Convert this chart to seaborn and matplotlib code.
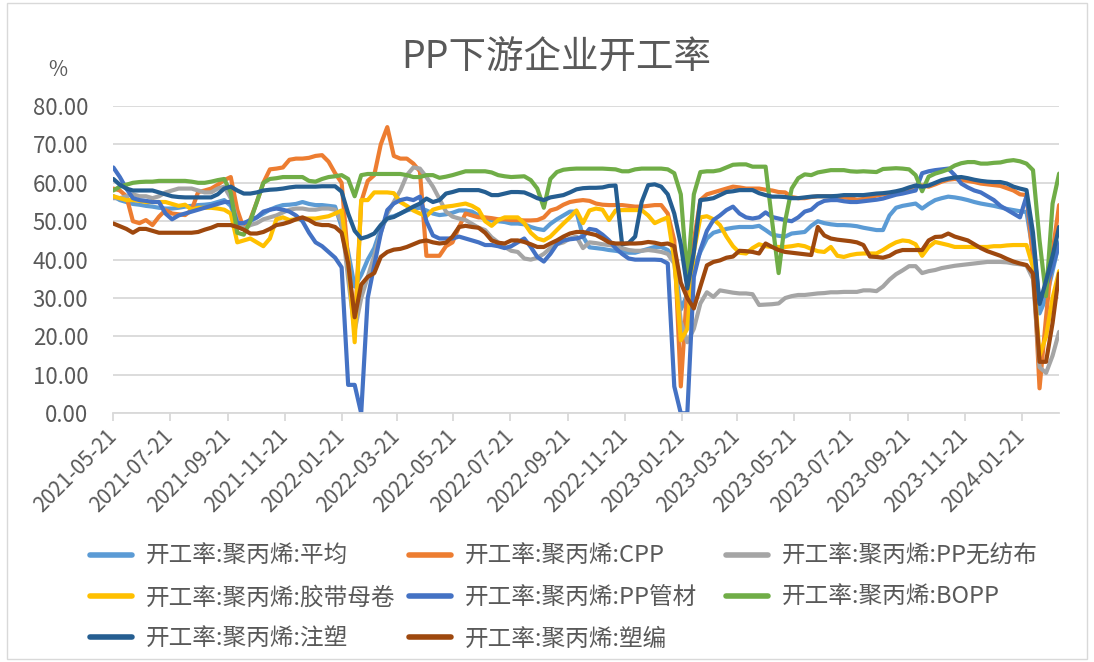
import pandas as pd
import seaborn as sns
import matplotlib.pyplot as plt
from matplotlib.lines import Line2D
from matplotlib.patches import Rectangle

# weekly observations (Fridays), 2021-05-21 .. 2024-03-01
dates = pd.date_range("2021-05-21", periods=146, freq="7D")

avg = [56.5, 55.5, 55, 54.5, 54.3, 54, 53.8, 53.5, 53.3, 53.3, 53.5, 53.8, 54, 54.2, 54.3, 54.5, 55, 55.5, 54, 49.5, 48.5,
       50, 51, 52, 53, 53.7, 54.2, 54.3, 54.5, 55, 54.5, 54.2, 54.2, 54, 53.8, 48.5, 42, 33, 36, 40, 43,
       48, 51, 51.3, 52, 52.8, 53.3, 53.5, 52.8, 52, 51.6, 51.8, 52.2, 52.8, 52.8, 52.5, 51.5, 50.5, 50.2, 50, 49.8, 49.4,
       49.4, 49.2, 48.5, 48, 47.7, 49.3, 50.5, 51.5, 52.5, 52.5, 46, 43.2, 43, 42.8, 42.5, 42.3, 42, 41.8, 41.8, 42.3, 42.8,
       43.3, 43.3, 42.5, 40, 27, 31, 38, 42, 45.5, 47, 47.5, 48, 48.3, 48.5, 48.5, 48.5, 48.8, 47.7, 46.5, 46.2,
       46, 46.8, 47, 47.2, 48.8, 50, 49.5, 49.2, 49, 49, 48.9, 48.7, 48.3, 48, 47.7, 47.7, 51.5, 53.5, 54, 54.3, 54.6,
       53.3, 54.5, 55.5, 56, 56.4, 56.2, 55.9, 55.5, 55, 54.6, 54.3, 54, 53.6, 53.2, 52.9, 52.6, 52.4, 42, 26, 30, 37, 44.5]

cpp = [58.5, 58, 56.5, 50, 49.5, 50.3, 49, 51.2, 52.9, 52, 51.8, 51.6, 52.9, 57.6, 58, 58.5, 59.5, 60.7, 61.5, 53, 48,
       50.5, 55, 60, 63.5, 63.7, 64, 66, 66.3, 66.3, 66.5, 67, 67.2, 65.5, 62.5, 60, 40, 22, 55, 60.5, 62,
       70, 74.5, 67, 66.3, 66.3, 65, 63, 41, 41, 41, 43.5, 44.5, 48.5, 52, 51.5, 51, 51, 50.8, 50.5, 50.5, 50.3,
       50.3, 50.2, 50.2, 50.3, 51, 52.8, 53.3, 54.3, 55, 55.3, 55.5, 55.3, 54.6, 54.3, 54.2, 54.2, 54.2, 54, 53.8, 53.8, 54,
       54.2, 54.2, 52, 45, 7, 33, 45, 55.5, 57, 57.5, 58, 58.5, 59, 58.8, 58.5, 58.5, 58.5, 58.2, 58, 57.6,
       57.5, 56.3, 56, 56, 56.3, 56.5, 56.5, 56.5, 56.4, 56.2, 56, 55.6, 55.8, 56.2, 56.7, 57, 57.2, 57.4, 58, 58.5, 59.2,
       59.3, 59, 59.6, 60.3, 60.8, 61, 60.8, 60.5, 60.2, 59.8, 59.6, 59.4, 59.2, 58.6, 58, 57, 56.8, 40, 6.5, 25, 42, 54.2]

nonwoven = [56, 56, 56.5, 57, 56.5, 56.5, 56, 56.5, 57.5, 58, 58.5, 58.5, 58.5, 58, 57.5, 57.5, 58.5, 59, 56, 50, 48,
            49, 49.5, 50.5, 51, 51.5, 52.3, 53, 53.3, 53.3, 53, 53, 53.3, 53.3, 53, 50, 35, 21.5, 30, 35.5, 41,
            47, 52, 55, 58, 62, 64, 63.7, 61.5, 59, 55.8, 52.5, 51.2, 50.7, 50.3, 49.3, 48.3, 47.7, 45.8, 44.5, 43.3, 42.3,
            42, 40.3, 40, 40.5, 41.5, 43, 44, 44.5, 45.5, 46, 43, 44.5, 44.3, 44, 43.8, 43.5, 43, 42.5, 42.3, 42.3, 42.5,
            42.3, 42, 41.5, 39, 24, 18.5, 22, 28.6, 31.5, 30.3, 32, 31.7, 31.4, 31.2, 31.2, 31, 28.2, 28.3, 28.4, 28.6,
            30, 30.5, 30.8, 30.8, 31, 31.2, 31.3, 31.5, 31.5, 31.6, 31.6, 31.6, 32, 32, 31.8, 33, 34.8, 36.2, 37.2, 38.3, 38.3,
            36.5, 37, 37.3, 37.8, 38.1, 38.4, 38.6, 38.8, 39, 39.2, 39.4, 39.4, 39.4, 39.3, 39, 38.8, 38.5, 35, 12, 10.5, 15, 21.2]

tape = [56.5, 56, 55.5, 55.5, 55.3, 55, 55, 55, 55, 54.5, 54, 54.3, 53, 53.5, 53.5, 53.5, 53.3, 53, 52, 44.5, 45,
        45.5, 44.5, 43.5, 45.5, 50.5, 51, 50.3, 50.5, 50.7, 50.7, 50.7, 51, 51.3, 52, 52.8, 40, 18.5, 55.5, 55.5, 57.5,
        57.5, 57.5, 57.3, 55, 54, 52.8, 52, 51.3, 53, 53.5, 53.8, 54, 54.3, 54.6, 54, 53, 50, 48.8, 50.3, 51, 51,
        51, 49.5, 47, 45.5, 45, 46, 47.7, 49.4, 51, 52.8, 49.5, 52.8, 53.3, 53, 50.3, 52.8, 52.9, 52.9, 52.9, 52.9, 51.5,
        49.5, 50.3, 51, 40, 19, 22, 42, 51, 51.3, 50.5, 49, 46, 43.5, 41.8, 41.6, 43, 44, 43.5, 43.3, 43.3,
        43.3, 43.5, 43.8, 43.5, 42.8, 42.2, 42, 43.3, 41, 40.7, 41.2, 41.5, 41.6, 41.6, 41.6, 42.5, 43.6, 44.5, 45, 44.8, 44,
        41, 43.3, 44.6, 44.2, 43.8, 43.3, 43.3, 43.3, 43.3, 43.3, 43.3, 43.5, 43.5, 43.7, 43.8, 43.8, 43.8, 38, 15, 20, 30, 37]

pipe = [64, 61.5, 58.5, 56, 55.5, 55.3, 55, 55, 52, 50.5, 51.5, 52, 52.5, 53, 53.5, 54, 54.5, 55, 55, 49.5, 49.5,
        50.3, 51, 52.5, 53, 53.3, 53, 52.5, 51.5, 50, 47, 44.5, 43.5, 42, 40.5, 38, 7.4, 7.4, 0, 30, 38.5,
        46.8, 52.9, 54.6, 55.5, 55.9, 55.5, 56.4, 50, 46.3, 45.5, 45.5, 45.5, 46, 45.5, 45, 44.5, 43.8, 43.8, 43.5, 43, 43.5,
        44.5, 45.5, 43.3, 40.7, 39.5, 41.5, 44, 45, 45.3, 45.5, 46, 48, 47.7, 46.5, 45, 43, 41.5, 40.3, 40, 40, 40,
        40, 39.9, 39, 7, 0, 0, 35.5, 42.5, 47.5, 50.3, 51.5, 52.9, 53.8, 52, 51, 50.7, 51, 52.3, 51.1, 50.7,
        50.3, 50, 51, 52.5, 53, 54.5, 55.3, 55.5, 55.5, 55.2, 55, 55, 55.2, 55.4, 55.6, 55.9, 56.4, 56.9, 57.2, 57.6, 58,
        62.5, 63, 63.3, 63.5, 63.7, 62, 59.8, 58.8, 58, 57.5, 56.5, 55.5, 54, 53, 52, 51, 56.5, 45, 28.5, 33, 38, 44]

bopp = [58, 59, 59.5, 60, 60.2, 60.3, 60.3, 60.5, 60.5, 60.5, 60.5, 60.5, 60.3, 60, 60, 60.3, 60.7, 61, 57.5, 47, 46.5,
        50, 55, 60, 61, 61.2, 61.5, 61.5, 61.5, 61.5, 60.5, 60.3, 61, 61.5, 61.7, 62, 61, 56.5, 62, 62.3, 62.3,
        62.3, 62.3, 62.3, 62.3, 62, 61.5, 61.5, 62, 62, 61.3, 61.6, 62, 62.5, 63, 63, 63, 63, 62.7, 62, 61.7, 61.5,
        61.6, 61.7, 60.7, 58.5, 53.5, 61, 62.8, 63.4, 63.6, 63.7, 63.7, 63.7, 63.7, 63.7, 63.6, 63.5, 63, 63, 63.5, 63.7, 63.7,
        63.7, 63.7, 63.5, 62.5, 57, 35, 57, 62.8, 63, 63, 63.3, 64, 64.7, 64.8, 64.8, 64.2, 64.2, 64.2, 50, 36.5,
        50, 58.5, 61.2, 62.2, 62, 62.7, 63, 63.3, 63.3, 63.3, 63, 62.9, 63, 62.9, 62.8, 63.6, 63.7, 63.8, 63.7, 63.5, 62,
        57.8, 61.6, 62.4, 62.9, 63.5, 64.5, 65.1, 65.4, 65.4, 65, 65, 65.2, 65.3, 65.7, 65.9, 65.6, 65, 63.3, 45, 30.5, 54.6, 62.4]

injection = [61, 59.5, 58.5, 58, 58, 58, 58, 57.5, 57, 56.5, 56.3, 56.2, 56.2, 56.2, 56.2, 56.2, 57, 58.5, 59, 58, 57.2,
             57.2, 57.5, 58, 58.2, 58.3, 58.5, 58.8, 59, 59, 59, 59, 59.1, 59.1, 59.1, 57.7, 52, 47.5, 45.5, 46, 46.8,
             49, 50.7, 51.1, 52, 52.9, 53.8, 54.6, 55.9, 55, 55.5, 57.2, 57.6, 58.1, 58.1, 58.1, 58.1, 57.6, 56.8, 56.8, 57.2, 57.6,
             57.6, 57.5, 56.8, 56, 55.5, 56.2, 56.5, 56.8, 57.5, 58.3, 58.6, 58.7, 58.7, 58.8, 59.2, 59.3, 44, 44.3, 46, 55, 59.4,
             59.6, 59, 57, 52, 44, 32.5, 42, 55.5, 55.7, 56, 56.8, 57.6, 57.8, 58.1, 58.1, 58.1, 57.3, 56.8, 56.4, 56.4,
             56.3, 56, 56, 56.2, 56.4, 56.5, 56.5, 56.5, 56.6, 56.8, 56.8, 56.8, 56.8, 57, 57.2, 57.3, 57.5, 57.8, 58.2, 58.8, 59.3,
             59, 59.3, 60, 60.7, 61.1, 61.4, 61.5, 61.2, 60.8, 60.5, 60.3, 60.2, 60.2, 59.8, 59, 58.5, 58.1, 47, 28.5, 34.5, 41, 48.5]

woven = [49.4, 48.7, 48, 47, 48, 48, 47.5, 47, 47, 47, 47, 47, 47, 47.2, 47.8, 48.3, 49, 49, 49, 48.5, 47.8,
         46.8, 46.8, 47.2, 48, 49, 49.3, 49.8, 50.5, 51, 50.3, 49.3, 49, 49, 48.5, 47, 39, 25, 33.5, 35.5, 36.5,
         40.7, 42, 42.6, 42.8, 43.3, 44, 44.7, 45, 44.5, 44.2, 44.4, 46, 48.5, 48.8, 48.5, 48.3, 47, 45, 44.4, 44.2, 45,
         45, 44.6, 44, 43.3, 43.3, 44.2, 45, 46, 46.8, 47.2, 47.2, 46.8, 46.4, 45.5, 44.5, 44.2, 44.2, 44.2, 44.2, 44.3, 44.6,
         44.4, 44, 44.2, 43.5, 34, 30, 27.3, 33, 38.5, 39.4, 39.8, 40.5, 40.8, 42.3, 42.2, 42, 41.6, 44.2, 43.3, 42.5,
         42, 41.8, 41.6, 41.4, 41.2, 48.5, 46.3, 45.5, 45.2, 45, 44.8, 44.5, 43.8, 40.8, 40.7, 40.5, 41, 42, 42.5, 42.5, 42.5,
         42.5, 45, 45.9, 46, 46.8, 46, 45.5, 45, 44, 43, 42.2, 41.6, 41, 40.2, 39.5, 39, 38.6, 36.4, 13.4, 13.4, 23.5, 36.4]

names = ["开工率:聚丙烯:平均", "开工率:聚丙烯:CPP", "开工率:聚丙烯:PP无纺布",
         "开工率:聚丙烯:胶带母卷", "开工率:聚丙烯:PP管材", "开工率:聚丙烯:BOPP",
         "开工率:聚丙烯:注塑", "开工率:聚丙烯:塑编"]
values = [avg, cpp, nonwoven, tape, pipe, bopp, injection, woven]
colors = ["#5B9BD5", "#ED7D31", "#A5A5A5", "#FFC000", "#4472C4", "#70AD47", "#255E91", "#9E480E"]
palette = dict(zip(names, colors))

wide = pd.DataFrame(dict(zip(names, values)))
wide["date"] = dates
df = wide.melt(id_vars="date", var_name="series", value_name="rate")

sns.set_theme(style="white")
plt.rcParams["font.family"] = ["Noto Sans CJK SC", "DejaVu Sans"]
grey_txt = "#595959"
grid_c = "#D9D9D9"

fig = plt.figure(figsize=(10.94, 6.62), dpi=100)
ax = fig.add_axes([0.1036, 0.3757, 0.8645, 0.4642])

sns.lineplot(data=df, x="date", y="rate", hue="series", hue_order=names,
             palette=palette, linewidth=3, errorbar=None, legend=False, ax=ax)

ax.set_xlim(dates[0], dates[-1])
ax.set_ylim(0, 80)
yt = list(range(0, 81, 10))
ax.set_yticks(yt)
ax.set_yticklabels([f"{v:.2f}" for v in yt])
ax.yaxis.grid(True, color=grid_c, linewidth=1.3)
ax.xaxis.grid(False)
ax.set_axisbelow(True)

xt = pd.date_range("2021-05-21", "2024-01-21", freq=pd.DateOffset(months=2))
ax.set_xticks(xt)
ax.set_xticklabels([d.strftime("%Y-%m-%d") for d in xt], rotation=45,
                   ha="right", va="center", rotation_mode="anchor")
ax.tick_params(axis="x", length=6, width=1.3, color=grid_c, pad=8,
               labelsize=15, labelcolor=grey_txt, bottom=True)
ax.tick_params(axis="y", length=0, pad=18, labelsize=16, labelcolor=grey_txt)

for s in ["left", "top", "right"]:
    ax.spines[s].set_visible(False)
ax.spines["bottom"].set_color(grid_c)
ax.spines["bottom"].set_linewidth(1.3)
ax.set_xlabel("")
ax.set_ylabel("")

fig.text(0.508, 0.912, "PP下游企业开工率", ha="center", va="center",
         fontsize=27, color=grey_txt)
fig.text(0.053, 0.894, "%", ha="center", va="center", fontsize=15, color=grey_txt)

# one legend per column so each column starts where it does in the original
columns = [[0, 3, 6], [1, 4, 7], [2, 5]]
col_x = [90, 409, 726]
for idx, x0 in zip(columns, col_x):
    hs = [Line2D([0], [0], color=colors[i], linewidth=4) for i in idx]
    leg = fig.legend(hs, [names[i] for i in idx], loc="upper left",
                     bbox_to_anchor=(x0 / 1094, 0.177), bbox_transform=fig.transFigure,
                     frameon=False, fontsize=17, handlelength=1.78, handletextpad=0.6,
                     labelspacing=0.78, labelcolor=grey_txt, borderaxespad=0, borderpad=0)

fig.patches.append(Rectangle((0.006, 0.005), 0.988, 0.99, transform=fig.transFigure,
                             fill=False, edgecolor=grid_c, linewidth=1))

fig.savefig("out.png", dpi=100)
